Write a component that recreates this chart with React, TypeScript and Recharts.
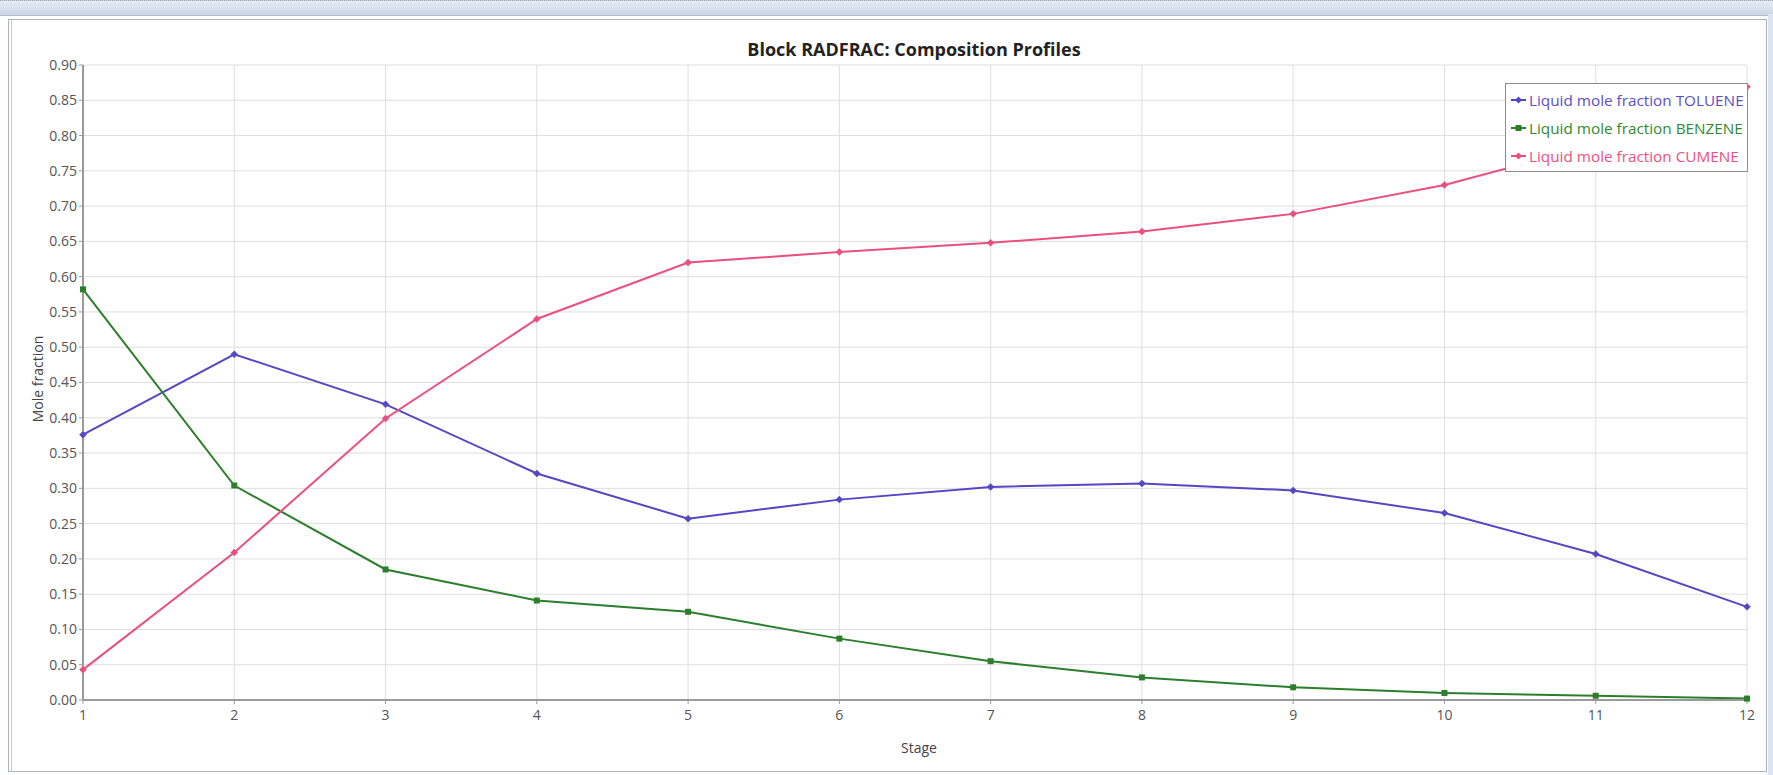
import React from "react";
import { LineChart, Line, XAxis, YAxis, CartesianGrid } from "recharts";

const stages = [1, 2, 3, 4, 5, 6, 7, 8, 9, 10, 11, 12];
const toluene = [0.376, 0.49, 0.419, 0.321, 0.257, 0.284, 0.302, 0.307, 0.297, 0.265, 0.207, 0.132];
const benzene = [0.582, 0.304, 0.185, 0.141, 0.125, 0.087, 0.055, 0.032, 0.018, 0.01, 0.006, 0.002];
const cumene = [0.043, 0.209, 0.399, 0.54, 0.62, 0.635, 0.648, 0.664, 0.689, 0.73, 0.787, 0.869];
const yTicks = [0, 0.05, 0.1, 0.15, 0.2, 0.25, 0.3, 0.35, 0.4, 0.45, 0.5, 0.55, 0.6, 0.65, 0.7, 0.75, 0.8, 0.85, 0.9];
const seriesNames = [
  "Liquid mole fraction TOLUENE",
  "Liquid mole fraction BENZENE",
  "Liquid mole fraction CUMENE",
];

const COLORS = { toluene: "#5447c4", benzene: "#2b7f2b", cumene: "#ea4f7e" };
const TEXT_COLORS = ["#5a4fc8", "#2f8a2f", "#e8527f"];

const data = stages.map((s, i) => ({
  stage: s,
  toluene: toluene[i],
  benzene: benzene[i],
  cumene: cumene[i],
}));

const FONT = "'Open Sans', 'Noto Sans', sans-serif";

const diamondDot = (color: string, r: number) => (props: any) => {
  const { cx, cy, index } = props;
  if (cx == null || cy == null) return <g key={index} />;
  return (
    <path
      key={index}
      d={`M${cx},${cy - r}L${cx + r},${cy}L${cx},${cy + r}L${cx - r},${cy}Z`}
      fill={color}
      stroke={color}
      strokeWidth={0.5}
    />
  );
};

const squareDot = (color: string, s: number) => (props: any) => {
  const { cx, cy, index } = props;
  if (cx == null || cy == null) return <g key={index} />;
  return <rect key={index} x={cx - s / 2} y={cy - s / 2} width={s} height={s} fill={color} />;
};

const LegendBox = () => {
  const lineColors = [COLORS.toluene, COLORS.benzene, COLORS.cumene];
  return (
    <div
      style={{
        position: "absolute",
        left: 1505,
        top: 83,
        width: 243,
        height: 89,
        background: "#ffffff",
        border: "1px solid #8a8a8a",
        boxSizing: "border-box",
        overflow: "hidden",
        fontFamily: FONT,
        fontSize: 15.3,
        paddingTop: 2,
      }}
    >
      {seriesNames.map((n, i) => (
        <div
          key={n}
          style={{
            height: 28,
            lineHeight: "28px",
            whiteSpace: "nowrap",
            color: TEXT_COLORS[i],
            display: "flex",
            alignItems: "center",
          }}
        >
          <svg width={20} height={12} style={{ marginLeft: 2, marginRight: 1, flexShrink: 0 }}>
            <line x1={3} y1={6} x2={18} y2={6} stroke={lineColors[i]} strokeWidth={2} />
            {i === 1 ? (
              <rect x={7.5} y={3} width={6} height={6} fill={lineColors[i]} />
            ) : (
              <path d="M10.5,2.5L14,6L10.5,9.5L7,6Z" fill={lineColors[i]} />
            )}
          </svg>
          <span>{n}</span>
        </div>
      ))}
    </div>
  );
};

export default function App() {
  return (
    <div
      style={{
        position: "absolute",
        left: 0,
        top: 0,
        width: 1773,
        height: 775,
        background: "#ffffff",
        overflow: "hidden",
        fontFamily: FONT,
      }}
    >
      {/* window chrome */}
      <div
        style={{
          position: "absolute",
          left: 0,
          top: 0,
          width: 1773,
          height: 14,
          background: "linear-gradient(#e6ecf4, #c9d5e4)",
          borderTop: "1px dotted #9aa6b4",
          borderBottom: "1px solid #b4bfcc",
        }}
      />
      <div
        style={{
          position: "absolute",
          left: 8,
          top: 19,
          width: 1759,
          height: 753,
          border: "1px solid #a9b1ba",
          boxSizing: "border-box",
        }}
      />
      <div
        style={{
          position: "absolute",
          left: 11,
          top: 20,
          width: 1,
          height: 752,
          background: "#c4cad1",
        }}
      />
      <div
        style={{
          position: "absolute",
          left: 1768,
          top: 14,
          width: 5,
          height: 761,
          background: "#dbe5f1",
        }}
      />
      <div
        style={{
          position: "absolute",
          left: 914,
          top: 37,
          transform: "translateX(-50%)",
          whiteSpace: "nowrap",
          fontSize: 18,
          fontWeight: 700,
          color: "#222",
          fontFamily: FONT,
        }}
      >
        Block RADFRAC: Composition Profiles
      </div>
      <div style={{ position: "absolute", left: 0, top: 0 }}>
        <LineChart
          width={1773}
          height={775}
          data={data}
          margin={{ top: 65, right: 26, bottom: 20, left: 23 }}
        >
          <CartesianGrid stroke="#dedede" strokeWidth={1} />
          <XAxis
            dataKey="stage"
            type="number"
            domain={[1, 12]}
            ticks={stages}
            height={55}
            axisLine={{ stroke: "#9a9a9a", strokeWidth: 2 }}
            tickLine={{ stroke: "#9a9a9a" }}
            tickSize={4}
            tickMargin={6}
            tick={{ fill: "#555", fontSize: 14, fontFamily: FONT }}
            interval={0}
            label={(props: any) => {
              const vb = props.viewBox || { x: 83, y: 700, width: 1664, height: 55 };
              return (
                <text
                  x={vb.x + vb.width / 2 + 4}
                  y={747}
                  textAnchor="middle"
                  dominantBaseline="central"
                  fill="#444"
                  fontSize={14}
                  fontFamily={FONT}
                >
                  Stage
                </text>
              );
            }}
          />
          <YAxis
            type="number"
            domain={[0, 0.9]}
            ticks={yTicks}
            width={60}
            interval={0}
            axisLine={{ stroke: "#9a9a9a", strokeWidth: 2 }}
            tickLine={{ stroke: "#9a9a9a" }}
            tickSize={4}
            tickMargin={2}
            tickFormatter={(v: number) => v.toFixed(2)}
            tick={{ fill: "#555", fontSize: 14, fontFamily: FONT }}
            label={() => (
              <text
                x={37}
                y={379}
                transform="rotate(-90, 37, 379)"
                textAnchor="middle"
                dominantBaseline="central"
                fill="#444"
                fontSize={14}
                fontFamily={FONT}
              >
                Mole fraction
              </text>
            )}
          />
          <Line
            type="linear"
            dataKey="toluene"
            name={seriesNames[0]}
            stroke={COLORS.toluene}
            strokeWidth={2}
            dot={diamondDot(COLORS.toluene, 3.5)}
            isAnimationActive={false}
          />
          <Line
            type="linear"
            dataKey="benzene"
            name={seriesNames[1]}
            stroke={COLORS.benzene}
            strokeWidth={2}
            dot={squareDot(COLORS.benzene, 6)}
            isAnimationActive={false}
          />
          <Line
            type="linear"
            dataKey="cumene"
            name={seriesNames[2]}
            stroke={COLORS.cumene}
            strokeWidth={2}
            dot={diamondDot(COLORS.cumene, 3.5)}
            isAnimationActive={false}
          />
        </LineChart>
      </div>
      <LegendBox />
    </div>
  );
}
